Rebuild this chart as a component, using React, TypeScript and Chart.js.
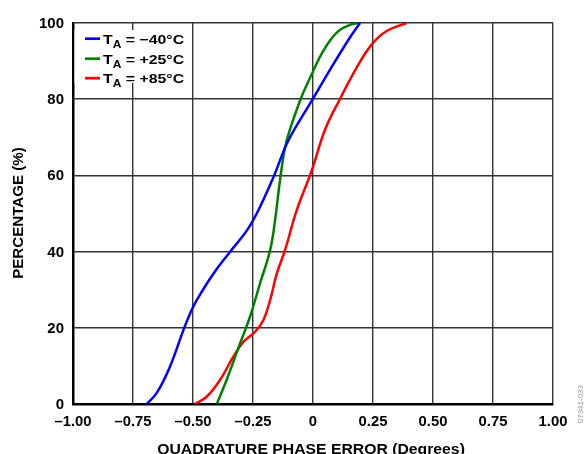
import React, { useEffect, useRef } from 'react';
import { Chart, registerables } from 'chart.js';
Chart.register(...registerables);

const xTickValues = [-1, -0.75, -0.5, -0.25, 0, 0.25, 0.5, 0.75, 1];
const xTickLabels = ['–1.00', '–0.75', '–0.50', '–0.25', '0', '0.25', '0.50', '0.75', '1.00'];
const yTickValues = [0, 20, 40, 60, 80, 100];
const yTickLabels = ['0', '20', '40', '60', '80', '100'];

const xTitle = 'QUADRATURE PHASE ERROR (Degrees)';
const yTitle = 'PERCENTAGE (%)';
const seriesNames = ['−40°C', '+25°C', '+85°C'];
const sideNote = '07341-033';

// T_A = -40°C
const blueX = [-0.693, -0.651, -0.596, -0.54, -0.5125, -0.485, -0.415, -0.346, -0.276, -0.228, -0.165, -0.103, -0.005, 0.085, 0.154, 0.196];
const blueY = [0, 2.9, 9.8, 19.4, 23.7, 27.2, 34.2, 39.9, 45.5, 50.8, 59.5, 69.1, 79.6, 89.2, 96.2, 100];
// T_A = +25°C
const greenX = [-0.401, -0.36, -0.304, -0.2625, -0.221, -0.179, -0.158, -0.142, -0.128, -0.11, -0.054, -0.005, 0.043, 0.099, 0.154, 0.19];
const greenY = [0, 6.3, 15.9, 22.9, 31.6, 40.3, 48.2, 56.5, 63, 69.1, 79.6, 86.6, 92.7, 97.5, 99.5, 100];
// T_A = +85°C
const redX = [-0.492, -0.443, -0.3875, -0.332, -0.29, -0.242, -0.207, -0.179, -0.151, -0.117, -0.068, -0.005, 0.05, 0.112, 0.182, 0.245, 0.307, 0.39];
const redY = [0, 1.9, 6.3, 12.4, 16.3, 18.9, 22, 27.2, 34.2, 40.3, 50.8, 61.3, 72, 80, 88.3, 94.4, 97.9, 100];

const colors = ['#0000ff', '#008000', '#ff0000'];
const FONT = '"Liberation Sans", Arial, Helvetica, sans-serif';

function pts(xs: number[], ys: number[]) {
  return xs.map((x, i) => ({ x, y: ys[i] }));
}

function drawText(ctx: CanvasRenderingContext2D, s: string, x: number, y: number, size: number, align: 'left' | 'center' | 'right', sx: number) {
  ctx.save();
  ctx.font = `bold ${size}px ${FONT}`;
  const w = ctx.measureText(s).width * sx;
  const left = align === 'left' ? x : align === 'center' ? x - w / 2 : x - w;
  ctx.translate(left, y);
  ctx.scale(sx, 1);
  ctx.textAlign = 'left';
  ctx.textBaseline = 'alphabetic';
  ctx.fillText(s, 0, 0);
  ctx.restore();
  return w;
}

const textPlugin = {
  id: 'textPlugin',
  afterDraw(chart: any) {
    const ctx: CanvasRenderingContext2D = chart.ctx;
    const xs = chart.scales.x;
    const ys = chart.scales.y;
    ctx.save();
    ctx.fillStyle = '#000';
    // tick labels
    xTickValues.forEach((v, i) => {
      drawText(ctx, xTickLabels[i], xs.getPixelForValue(v), 425.5, 14, 'center', 1.06);
    });
    yTickValues.forEach((v, i) => {
      drawText(ctx, yTickLabels[i], 64, ys.getPixelForValue(v) + 5, 14, 'right', 1.07);
    });
    // x title
    drawText(ctx, xTitle, (xs.left + xs.right) / 2 - 2, 453.5, 15, 'center', 1.05);
    // y title
    ctx.save();
    ctx.translate(22.7, 213);
    ctx.rotate(-Math.PI / 2);
    drawText(ctx, yTitle, 0, 0, 14, 'center', 1.08);
    ctx.restore();

    // legend
    const area = chart.chartArea;
    ctx.fillStyle = '#fff';
    ctx.fillRect(area.left + 1.5, 30, 190 - area.left - 1.5, 53);
    const baselines = [43.5, 63.5, 83];
    seriesNames.forEach((name, i) => {
      const b = baselines[i];
      ctx.strokeStyle = colors[i];
      ctx.lineWidth = 2.7;
      ctx.beginPath();
      ctx.moveTo(85, b - 4.8);
      ctx.lineTo(100, b - 4.8);
      ctx.stroke();
      ctx.fillStyle = '#000';
      let x = 103;
      x += drawText(ctx, 'T', x, b, 13, 'left', 1.22);
      x += drawText(ctx, 'A', x, b + 4, 10, 'left', 1.2);
      drawText(ctx, ' = ' + name, x, b, 13, 'left', 1.22);
    });

    // side note
    ctx.save();
    ctx.fillStyle = '#9a9a9a';
    ctx.translate(581, 385);
    ctx.rotate(-Math.PI / 2);
    ctx.font = `8px ${FONT}`;
    ctx.textAlign = 'right';
    ctx.textBaseline = 'middle';
    ctx.fillText(sideNote, 0, 0);
    ctx.restore();
    ctx.restore();
  },
};

export default function App() {
  const ref = useRef<HTMLCanvasElement>(null);
  useEffect(() => {
    document.body.style.margin = '0';
    const mk = (label: string, xs: number[], ys: number[], color: string) => ({
      label,
      data: pts(xs, ys),
      borderColor: color,
      backgroundColor: color,
      borderWidth: 2.5,
      pointRadius: 0,
      tension: 0.4,
      fill: false,
    });
    const chart = new Chart(ref.current!, {
      type: 'line',
      data: {
        datasets: [
          mk('T_A = ' + seriesNames[0], blueX, blueY, colors[0]),
          mk('T_A = ' + seriesNames[1], greenX, greenY, colors[1]),
          mk('T_A = ' + seriesNames[2], redX, redY, colors[2]),
        ],
      },
      options: {
        animation: false,
        responsive: false,
        maintainAspectRatio: false,
        layout: { padding: { top: 23, right: 31, left: 0, bottom: 0 } },
        plugins: { legend: { display: false }, tooltip: { enabled: false } },
        scales: {
          x: {
            type: 'linear',
            min: -1,
            max: 1,
            ticks: { stepSize: 0.25, display: false },
            grid: { color: '#333', lineWidth: 1.4, drawTicks: false },
            border: { color: '#000', width: 2.5 },
            afterFit: (s: any) => { s.height = 50; },
          },
          y: {
            type: 'linear',
            min: 0,
            max: 100,
            ticks: { stepSize: 20, display: false },
            grid: { color: '#333', lineWidth: 1.4, drawTicks: false },
            border: { color: '#000', width: 2.5 },
            afterFit: (s: any) => { s.width = 73; },
          },
        },
      },
      plugins: [textPlugin],
    });
    return () => chart.destroy();
  }, []);
  return <canvas ref={ref} width={584} height={454} style={{ display: 'block' }} />;
}
